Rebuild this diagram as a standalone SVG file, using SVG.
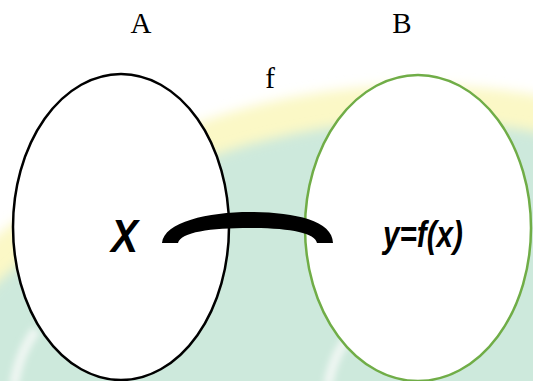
<svg xmlns="http://www.w3.org/2000/svg" width="533" height="381" viewBox="0 0 533 381">
<style>
.lbl{font-family:"Liberation Serif","Times New Roman",serif;font-size:29px;fill:#000}
.math{font-family:"Liberation Sans",Arial,sans-serif;font-weight:bold;font-style:italic;fill:#000}
.set{fill:#fff;stroke-width:2.5}
</style>
<defs>
<filter id="blur" x="-20%" y="-20%" width="140%" height="140%"><feGaussianBlur stdDeviation="6"/></filter>
<filter id="soft" x="-50%" y="-50%" width="200%" height="200%"><feGaussianBlur stdDeviation="3"/></filter>
</defs>
<rect width="533" height="381" fill="#fff"/>
<g id="watermark">
<circle cx="420" cy="755" r="670" fill="#fbf8c6" filter="url(#blur)"/>
<circle cx="420" cy="755" r="634" fill="#cde9dc" filter="url(#blur)"/>
<path d="M14,385 C18,362 24,347 36,330" fill="none" stroke="#eef6f2" stroke-width="10" filter="url(#soft)"/>
<path d="M328,385 C332,364 338,350 350,335" fill="none" stroke="#eef6f2" stroke-width="10" filter="url(#soft)"/>
</g>
<g id="setA"><ellipse class="set" cx="121" cy="227" rx="108" ry="153" stroke="#000"/></g>
<g id="setB"><ellipse class="set" cx="418" cy="228" rx="113" ry="153" stroke="#70ad47"/></g>
<g id="connectors">
<path d="M162,243 C164,222 208,212 250,212 C292,212 333,220 333,243 L317,243 C315,233 290,228 250,228 C210,228 181,232 178,243 Z" fill="#000"/>
</g>
<g id="labels">
<text class="lbl" x="141" y="33" text-anchor="middle">A</text>
<text class="lbl" x="402" y="33" text-anchor="middle">B</text>
<text class="lbl" x="270" y="88" text-anchor="middle">f</text>
</g>
<g id="nodeX"><text class="math" x="111" y="252" font-size="47" textLength="27" lengthAdjust="spacingAndGlyphs">X</text></g>
<g id="nodeY"><text class="math" x="383" y="247" font-size="37" textLength="80" lengthAdjust="spacingAndGlyphs">y=f(x)</text></g>
</svg>
